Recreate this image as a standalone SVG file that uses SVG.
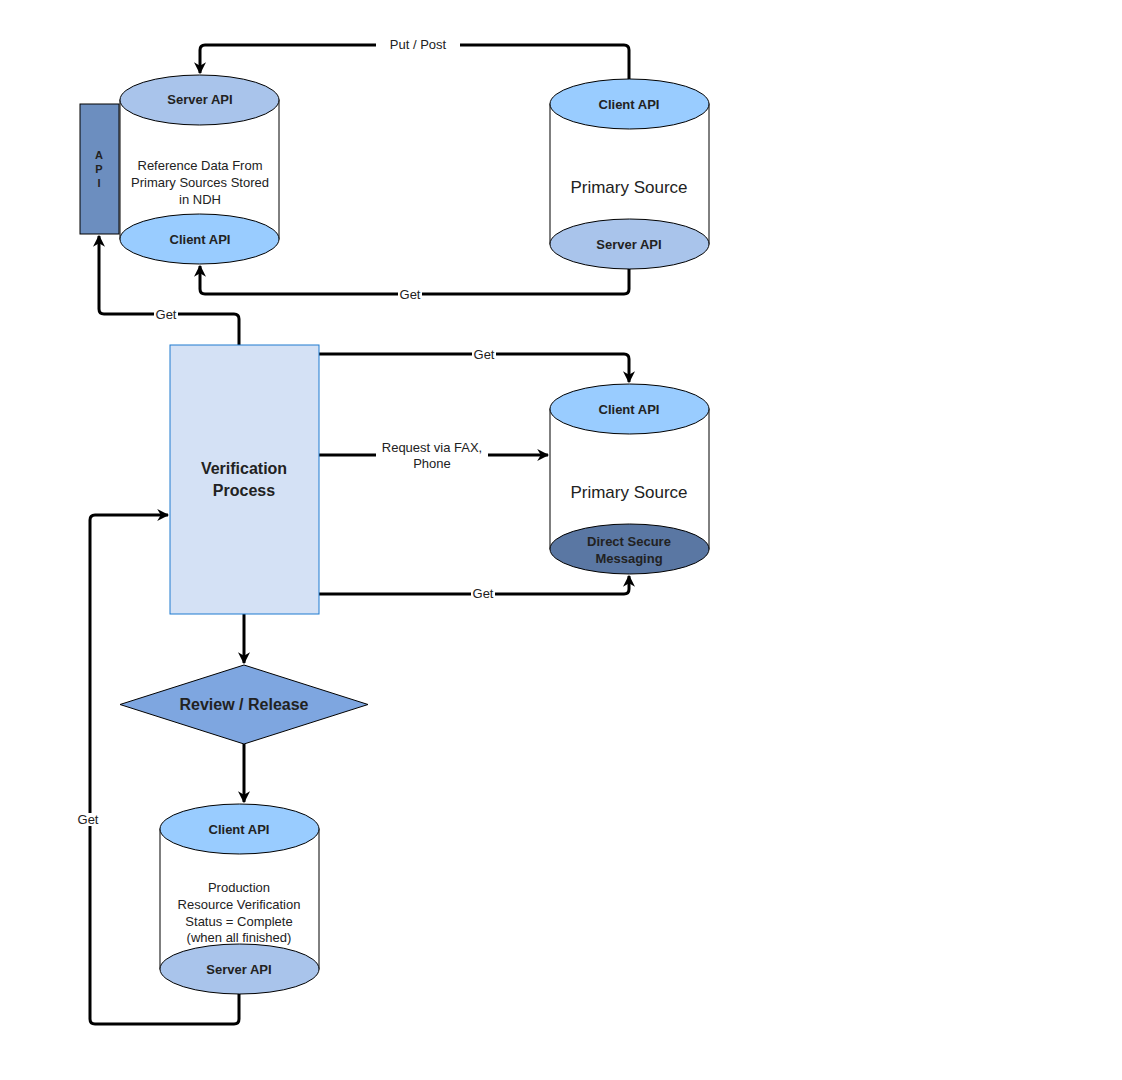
<svg xmlns="http://www.w3.org/2000/svg" width="1122" height="1080" viewBox="0 0 1122 1080">
<defs>
<marker id="ah" viewBox="0 0 10 10" refX="9" refY="5" markerWidth="4" markerHeight="4" orient="auto"><path d="M0,0 L10,5 L0,10 L3,5 Z" fill="#000"/></marker>
<style>
text{font-family:"Liberation Sans",Arial,sans-serif;fill:#222;text-anchor:middle}
.b{font-weight:bold;font-size:13px}
.n{font-size:13px}
.l{font-size:12px}
.big{font-size:16px}
.sm{font-size:11px}
.c path{fill:none;stroke:#000;stroke-width:3;stroke-linejoin:round}
.body{fill:#fff;stroke:#000;stroke-width:1}
.e{stroke:#000;stroke-width:1}
.lb{fill:#fff}
</style>
</defs>
<rect width="1122" height="1080" fill="#fff"/>
<g class="c">
<path d="M629,79 V50 Q629,45 624,45 H205 Q200,45 200,50 V73" marker-end="url(#ah)"/>
<path d="M629,269 V289 Q629,294 624,294 H205 Q200,294 200,289 V266" marker-end="url(#ah)"/>
<path d="M239,345 V319 Q239,314 234,314 H104 Q99,314 99,309 V236" marker-end="url(#ah)"/>
<path d="M319,354 H624 Q629,354 629,359 V382" marker-end="url(#ah)"/>
<path d="M319,455 H548" marker-end="url(#ah)"/>
<path d="M319,594 H624 Q629,594 629,589 V576" marker-end="url(#ah)"/>
<path d="M244,614 V663" marker-end="url(#ah)"/>
<path d="M244,744 V802" marker-end="url(#ah)"/>
<path d="M239,994 V1019 Q239,1024 234,1024 H95 Q90,1024 90,1019 V520 Q90,515 95,515 H168" marker-end="url(#ah)"/>
</g>
<g id="labels">
<rect class="lb" x="376" y="37" width="84" height="16"/><text class="n" x="418" y="49">Put / Post</text>
<rect class="lb" x="398" y="288" width="24" height="13"/><text class="n" x="410" y="299">Get</text>
<rect class="lb" x="154" y="308" width="24" height="13"/><text class="n" x="166" y="319">Get</text>
<rect class="lb" x="472" y="348" width="24" height="13"/><text class="n" x="484" y="359">Get</text>
<rect class="lb" x="376" y="439" width="112" height="32"/><text class="n" x="432" y="452">Request via FAX,</text><text class="n" x="432" y="468">Phone</text>
<rect class="lb" x="471" y="587" width="24" height="13"/><text class="n" x="483" y="598">Get</text>
<rect class="lb" x="76" y="813" width="24" height="13"/><text class="n" x="88" y="824">Get</text>
</g>
<g id="api">
<rect x="80" y="104" width="39" height="130" fill="#6C8EBF" stroke="#000"/>
<text class="b sm" x="99" y="159">A</text><text class="b sm" x="99" y="173">P</text><text class="b sm" x="99" y="187">I</text>
</g>
<g id="ndh">
<rect class="body" x="120" y="100" width="159" height="139"/>
<ellipse class="e" cx="199.5" cy="239" rx="79.5" ry="25" fill="#99CCFF"/>
<ellipse class="e" cx="199.5" cy="100" rx="79.5" ry="25" fill="#A9C4EB"/>
<text class="b" x="200" y="104">Server API</text>
<text class="n" x="200" y="170">Reference Data From</text><text class="n" x="200" y="187">Primary Sources Stored</text><text class="n" x="200" y="204">in NDH</text>
<text class="b" x="200" y="244">Client API</text>
</g>
<g id="ps1">
<rect class="body" x="550" y="104" width="159" height="140"/>
<ellipse class="e" cx="629.5" cy="244" rx="79.5" ry="25" fill="#A9C4EB"/>
<ellipse class="e" cx="629.5" cy="104" rx="79.5" ry="25" fill="#99CCFF"/>
<text class="b" x="629" y="109">Client API</text>
<text style="font-size:17px" x="629" y="193">Primary Source</text>
<text class="b" x="629" y="249">Server API</text>
</g>
<g id="ps2">
<rect class="body" x="550" y="409" width="159" height="140"/>
<ellipse class="e" cx="629.5" cy="549" rx="79.5" ry="25" fill="#5A77A3"/>
<ellipse class="e" cx="629.5" cy="409" rx="79.5" ry="25" fill="#99CCFF"/>
<text class="b" x="629" y="414">Client API</text>
<text style="font-size:17px" x="629" y="498">Primary Source</text>
<text class="b" x="629" y="546">Direct Secure</text><text class="b" x="629" y="563">Messaging</text>
</g>
<g id="verify">
<rect x="170" y="345" width="149" height="269" fill="#D4E1F5" stroke="#1E7BD0"/>
<text class="b big" x="244" y="474">Verification</text><text class="b big" x="244" y="496">Process</text>
</g>
<g id="review">
<path d="M244,665 L368,704.5 L244,744 L120,704.5 Z" fill="#7EA6E0" stroke="#000"/>
<text class="b big" x="244" y="710">Review / Release</text>
</g>
<g id="prod">
<rect class="body" x="160" y="829" width="159" height="140"/>
<ellipse class="e" cx="239.5" cy="969" rx="79.5" ry="25" fill="#A9C4EB"/>
<ellipse class="e" cx="239.5" cy="829" rx="79.5" ry="25" fill="#99CCFF"/>
<text class="b" x="239" y="834">Client API</text>
<text class="n" x="239" y="892">Production</text><text class="n" x="239" y="909">Resource Verification</text><text class="n" x="239" y="926">Status = Complete</text><text class="n" x="239" y="942">(when all finished)</text>
<text class="b" x="239" y="974">Server API</text>
</g>
</svg>
